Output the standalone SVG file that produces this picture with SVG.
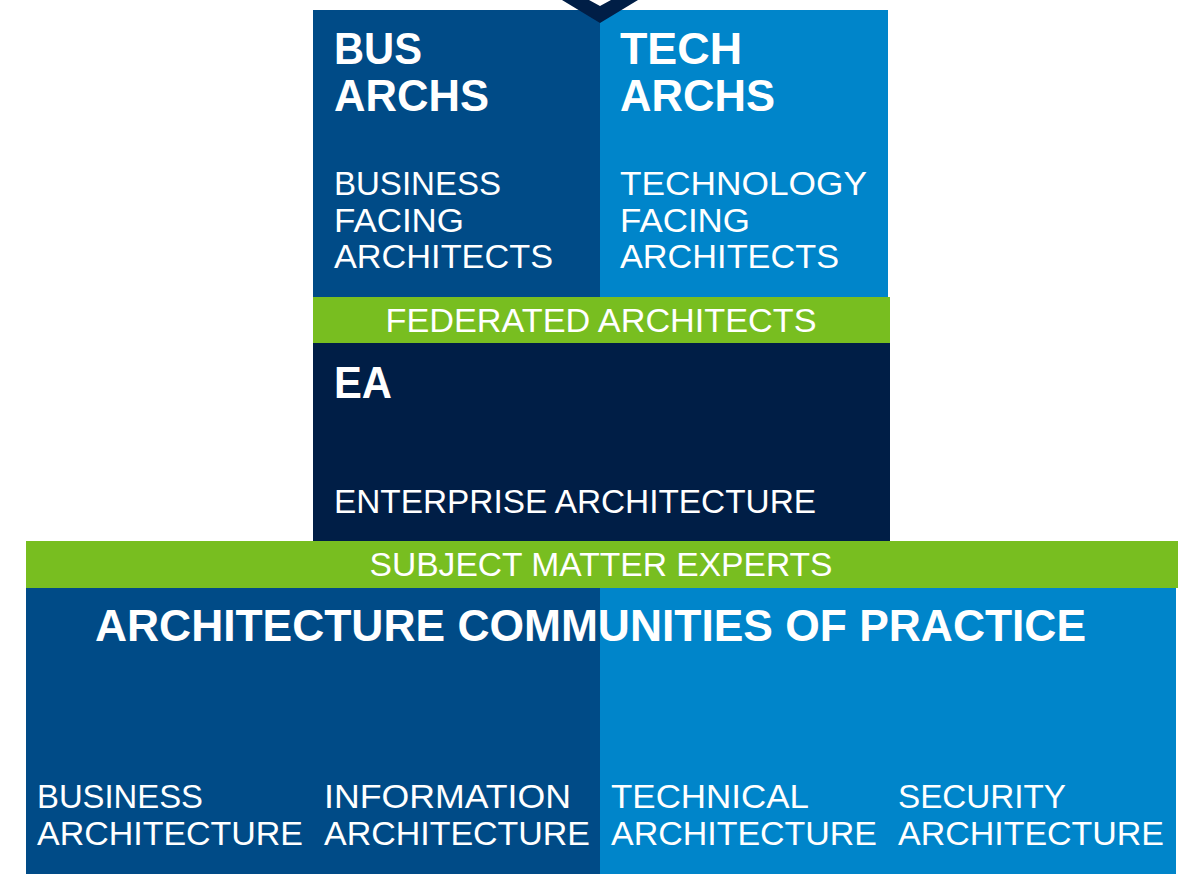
<svg xmlns="http://www.w3.org/2000/svg" width="1183" height="874" viewBox="0 0 1183 874">
  <style>
    .dark { fill: #004B87; }
    .light { fill: #0085CA; }
    .navy { fill: #001E46; }
    .green { fill: #78BE20; }
    .h { font-family: "Liberation Sans", Arial, sans-serif; font-weight: bold; font-size: 44px; fill: #FFFFFF; }
    .t { font-family: "Liberation Sans", Arial, sans-serif; font-size: 34px; fill: #FFFFFF; }
    .c { text-anchor: middle; }
  </style>
  <rect x="0" y="0" width="1183" height="874" fill="#FFFFFF"/>

  <g id="bus-archs">
    <rect class="dark" x="313" y="10" width="287" height="287"/>
    <text class="h" x="334" y="64" textLength="88" lengthAdjust="spacingAndGlyphs">BUS</text>
    <text class="h" x="334" y="111" textLength="155" lengthAdjust="spacingAndGlyphs">ARCHS</text>
    <text class="t" x="334" y="195" textLength="167" lengthAdjust="spacingAndGlyphs">BUSINESS</text>
    <text class="t" x="334" y="232" textLength="130" lengthAdjust="spacingAndGlyphs">FACING</text>
    <text class="t" x="334" y="268" textLength="219" lengthAdjust="spacingAndGlyphs">ARCHITECTS</text>
  </g>

  <g id="tech-archs">
    <rect class="light" x="600" y="10" width="288" height="287"/>
    <text class="h" x="620" y="64" textLength="122" lengthAdjust="spacingAndGlyphs">TECH</text>
    <text class="h" x="620" y="111" textLength="155" lengthAdjust="spacingAndGlyphs">ARCHS</text>
    <text class="t" x="620" y="195" textLength="247" lengthAdjust="spacingAndGlyphs">TECHNOLOGY</text>
    <text class="t" x="620" y="232" textLength="130" lengthAdjust="spacingAndGlyphs">FACING</text>
    <text class="t" x="620" y="268" textLength="219" lengthAdjust="spacingAndGlyphs">ARCHITECTS</text>
  </g>

  <g id="chevron">
    <polygon class="navy" points="562,0 600,23 638,0 611,0 600,6 589,0"/>
  </g>

  <g id="federated-architects">
    <rect class="green" x="313" y="297" width="577" height="46"/>
    <text class="t c" x="601" y="332" textLength="431" lengthAdjust="spacingAndGlyphs">FEDERATED ARCHITECTS</text>
  </g>

  <g id="ea">
    <rect class="navy" x="313" y="343" width="577" height="198"/>
    <text class="h" x="334" y="398" textLength="58" lengthAdjust="spacingAndGlyphs">EA</text>
    <text class="t" x="334" y="513" textLength="482" lengthAdjust="spacingAndGlyphs">ENTERPRISE ARCHITECTURE</text>
  </g>

  <g id="subject-matter-experts">
    <rect class="green" x="26" y="541" width="1152" height="47"/>
    <text class="t c" x="601" y="576" textLength="463" lengthAdjust="spacingAndGlyphs">SUBJECT MATTER EXPERTS</text>
  </g>

  <g id="communities-of-practice">
    <rect class="dark" x="26" y="588" width="574" height="286"/>
    <rect class="light" x="600" y="588" width="576" height="286"/>
    <text class="h c" x="590.5" y="641" textLength="991" lengthAdjust="spacingAndGlyphs">ARCHITECTURE COMMUNITIES OF PRACTICE</text>
  </g>

  <g id="business-architecture">
    <text class="t" x="37" y="808" textLength="166" lengthAdjust="spacingAndGlyphs">BUSINESS</text>
    <text class="t" x="37" y="845" textLength="266" lengthAdjust="spacingAndGlyphs">ARCHITECTURE</text>
  </g>

  <g id="information-architecture">
    <text class="t" x="324" y="808" textLength="247" lengthAdjust="spacingAndGlyphs">INFORMATION</text>
    <text class="t" x="324" y="845" textLength="266" lengthAdjust="spacingAndGlyphs">ARCHITECTURE</text>
  </g>

  <g id="technical-architecture">
    <text class="t" x="611" y="808" textLength="198" lengthAdjust="spacingAndGlyphs">TECHNICAL</text>
    <text class="t" x="611" y="845" textLength="266" lengthAdjust="spacingAndGlyphs">ARCHITECTURE</text>
  </g>

  <g id="security-architecture">
    <text class="t" x="898" y="808" textLength="168" lengthAdjust="spacingAndGlyphs">SECURITY</text>
    <text class="t" x="898" y="845" textLength="266" lengthAdjust="spacingAndGlyphs">ARCHITECTURE</text>
  </g>

  <g id="connectors"></g>
</svg>
